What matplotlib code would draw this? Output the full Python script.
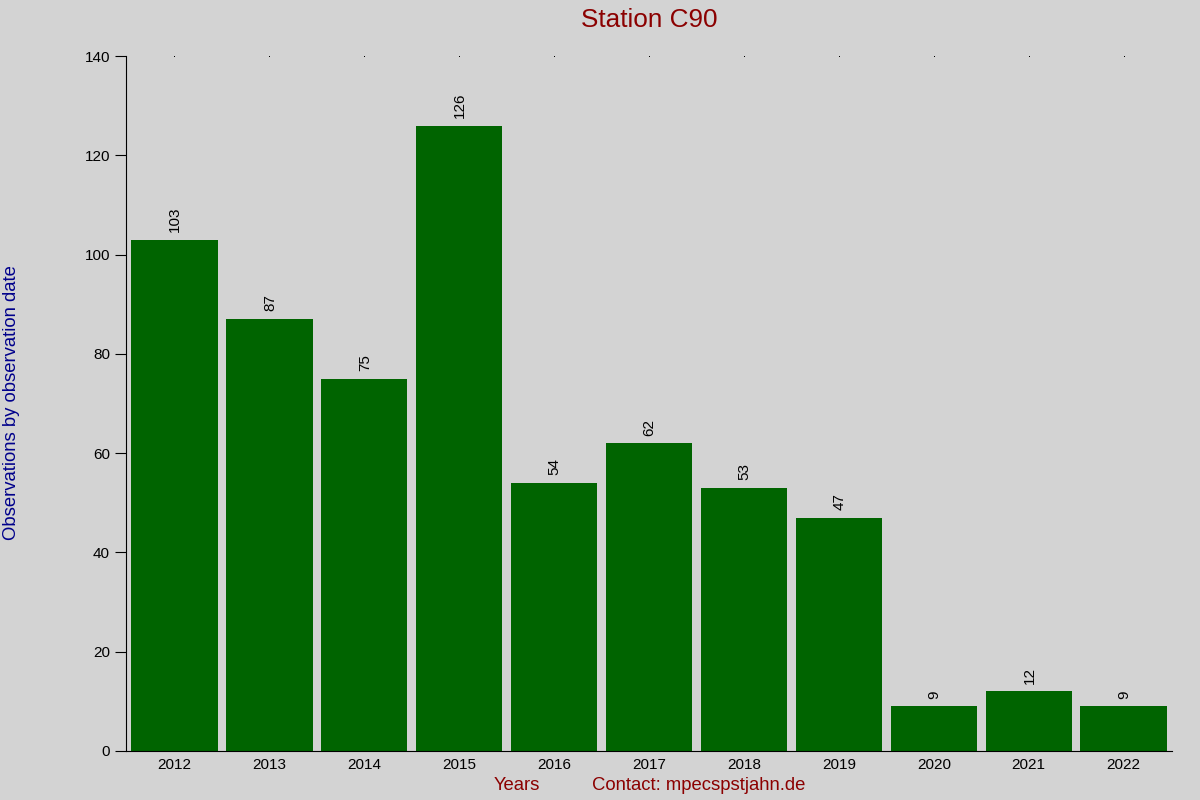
import matplotlib
matplotlib.use("Agg")
from matplotlib import pyplot as plt
import numpy as np

plt.rcParams['font.family'] = ['Liberation Sans', 'DejaVu Sans']

years = ["2012", "2013", "2014", "2015", "2016", "2017", "2018", "2019", "2020", "2021", "2022"]
counts = [103, 87, 75, 126, 54, 62, 53, 47, 9, 12, 9]

fig = plt.figure(figsize=(12, 8), dpi=100, facecolor="#d3d3d3")
ax = fig.add_axes([0.105, 0.06125, 0.8717, 0.86875])
ax.set_facecolor("#d3d3d3")

x = np.arange(len(years))
bars = ax.bar(x, counts, width=0.91, color="#006400")
for xi, c in zip(x, counts):
    ax.annotate(str(c), (xi, c), xytext=(0.5, 5.5), textcoords="offset points",
                rotation=90, ha="center", va="bottom", fontsize=11)

ax.set_xlim(-0.51, len(years) - 0.49)
ax.set_ylim(0, 140)
ax.set_yticks(range(0, 141, 20))
ax.set_xticks(x)
ax.set_xticklabels(years, fontsize=11)
ax.tick_params(axis="y", labelsize=11, length=8, direction="out")
ax.tick_params(axis="x", length=0, pad=5)
ax.spines["top"].set_visible(False)
ax.spines["right"].set_visible(False)
# small dots on top like the original
ax.plot(x, [140] * len(x), linestyle="none", marker="s", markersize=0.7,
        markeredgewidth=0, color="black", clip_on=False)

fig.text(0.541, 0.975, "Station C90", ha="center", va="center", fontsize=18.8, color="#8b0000")
fig.text(0.0095, 0.497, "Observations by observation date", rotation=90, ha="center", va="center",
         fontsize=13.3, color="#00008b")
fig.text(0.431, 0.018, "Years", ha="center", va="center", fontsize=13.3, color="#8b0000")
fig.text(0.582, 0.018, "Contact: mpecspstjahn.de", ha="center", va="center", fontsize=13.3, color="#8b0000")

fig.savefig("out.png", dpi=100, facecolor=fig.get_facecolor())
